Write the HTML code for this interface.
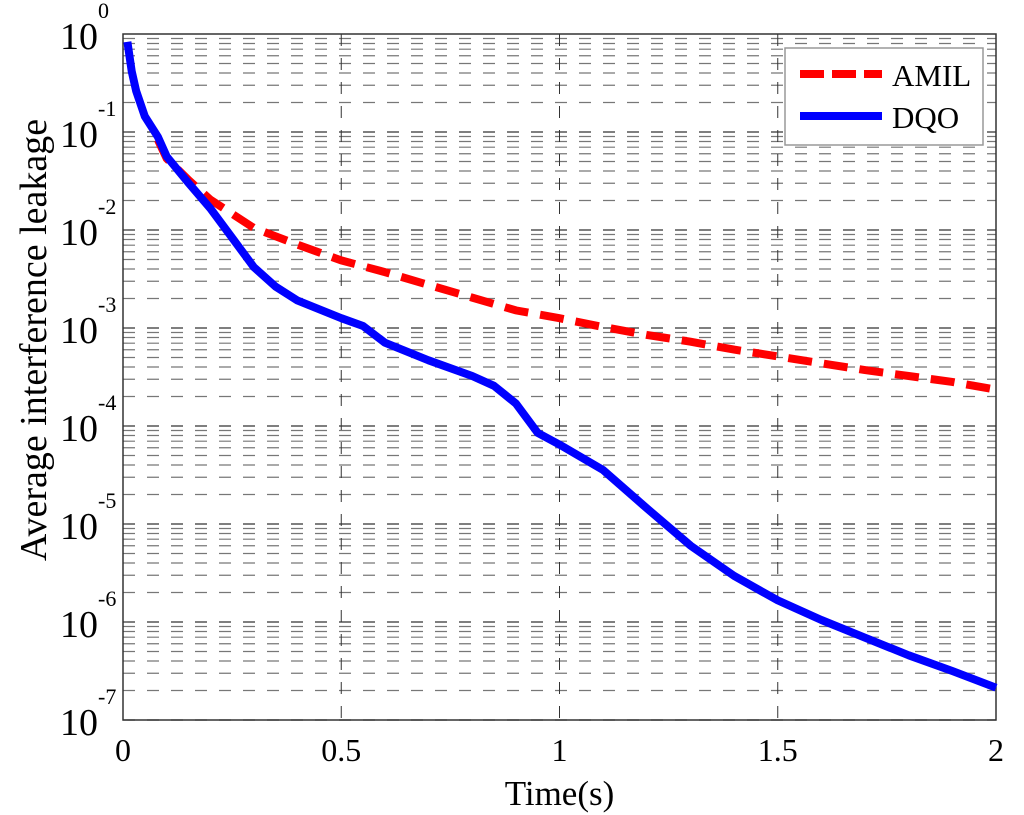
<!DOCTYPE html>
<html><head><meta charset="utf-8"><style>
body{margin:0;background:#fff}
svg{display:block;font-family:"Liberation Serif",serif}
</style></head><body>
<svg id="c" width="1024" height="815"></svg>
<script>
const timesDQO=[0.01,0.02,0.03,0.05,0.08,0.1,0.15,0.2,0.25,0.3,0.35,0.4,0.5,0.55,0.6,0.7,0.8,0.85,0.9,0.95,1.0,1.1,1.2,1.3,1.4,1.5,1.6,1.7,1.8,1.9,2.0];
const log10DQO=[-0.08,-0.38,-0.58,-0.84,-1.05,-1.25,-1.52,-1.78,-2.08,-2.38,-2.58,-2.72,-2.90,-2.98,-3.15,-3.33,-3.49,-3.59,-3.77,-4.07,-4.19,-4.45,-4.84,-5.22,-5.53,-5.78,-5.98,-6.16,-6.34,-6.50,-6.67];
const timesAMIL=[0.08,0.1,0.15,0.2,0.3,0.4,0.5,0.6,0.7,0.8,0.9,1.0,1.1,1.2,1.3,1.4,1.5,1.6,1.7,1.8,1.9,2.0];
const log10AMIL=[-1.08,-1.27,-1.49,-1.69,-1.98,-2.15,-2.31,-2.43,-2.56,-2.69,-2.82,-2.90,-2.99,-3.07,-3.14,-3.22,-3.29,-3.36,-3.43,-3.49,-3.55,-3.63];
const xTicks=[0,0.5,1,1.5,2];
const xTickLabels=["0","0.5","1","1.5","2"];
const yDecades=[0,-1,-2,-3,-4,-5,-6,-7];

const L=123,R=996,T=34,B=720;
const sx=t=>L+(t-0)/(2-0)*(R-L);
const sy=e=>T+(0-e)/(0-(-7))*(B-T);
const svg=document.getElementById('c');
const NS='http://www.w3.org/2000/svg';
function mk(tag,attrs,parent){const e=document.createElementNS(NS,tag);for(const k in attrs)e.setAttribute(k,attrs[k]);(parent||svg).appendChild(e);return e;}

for(let d=0;d<7;d++){
  for(let m=1;m<=9;m++){
    const e=-(d+1)+Math.log10(m);
    const y=sy(e);
    const g=mk('line',{x1:L,x2:R,y1:y,y2:y,stroke:m==1?'#333':'#777','stroke-width':1.2,'stroke-dasharray':'12,12'});
    
    
  }
}
xTicks.forEach((t,i)=>{
  if(i>0&&i<xTicks.length-1){
    const g=mk('line',{x1:sx(t),x2:sx(t),y1:T,y2:B,stroke:'#333','stroke-width':1,'stroke-dasharray':'12,12'});
    
    
  }
  const tx=mk('text',{x:sx(t),y:B+41,'font-size':32,'text-anchor':'middle'});
  tx.textContent=xTickLabels[i];
  
  
});
yDecades.forEach(e=>{
  const y=sy(e);
  const tx=mk('text',{x:98,y:y+15,'font-size':38,'text-anchor':'end'});
  tx.textContent='10';
  
  
  const ex=mk('text',{x:98,y:y-16,'font-size':22,'text-anchor':'start'});
  ex.textContent=String(e);
  
  
});
const box=mk('rect',{x:L,y:T,width:R-L,height:B-T,fill:'none',stroke:'#333','stroke-width':1.5});



function path(ts,vs){return ts.map((t,i)=>(i?'L':'M')+sx(t).toFixed(1)+','+sy(vs[i]).toFixed(1)).join(' ');}
const a=mk('path',{d:path(timesAMIL,log10AMIL),fill:'none',stroke:'#f00','stroke-width':8,'stroke-dasharray':'24,12'});


const q=mk('path',{d:path(timesDQO,log10DQO),fill:'none',stroke:'#00f','stroke-width':8,'stroke-linejoin':'round'});



const lg=mk('g',{});


mk('rect',{x:785,y:48,width:198,height:97,fill:'#fff',stroke:'#999','stroke-width':1.5},lg);
const le1=mk('line',{x1:800,x2:882,y1:74,y2:74,stroke:'#f00','stroke-width':8,'stroke-dasharray':'24,8'},lg);


const t1=mk('text',{x:892,y:86,'font-size':31},lg);t1.textContent='AMIL';


const le2=mk('line',{x1:800,x2:882,y1:116,y2:116,stroke:'#00f','stroke-width':8},lg);


const t2=mk('text',{x:892,y:128,'font-size':31},lg);t2.textContent='DQO';



const xl=mk('text',{x:(L+R)/2,y:805,'font-size':35,'text-anchor':'middle'});
xl.textContent='Time(s)';


const yl=mk('text',{x:0,y:0,'font-size':38,'text-anchor':'middle',transform:'translate(46,340) rotate(-90)'});
yl.textContent='Average interference leakage';


</script>
</body></html>
